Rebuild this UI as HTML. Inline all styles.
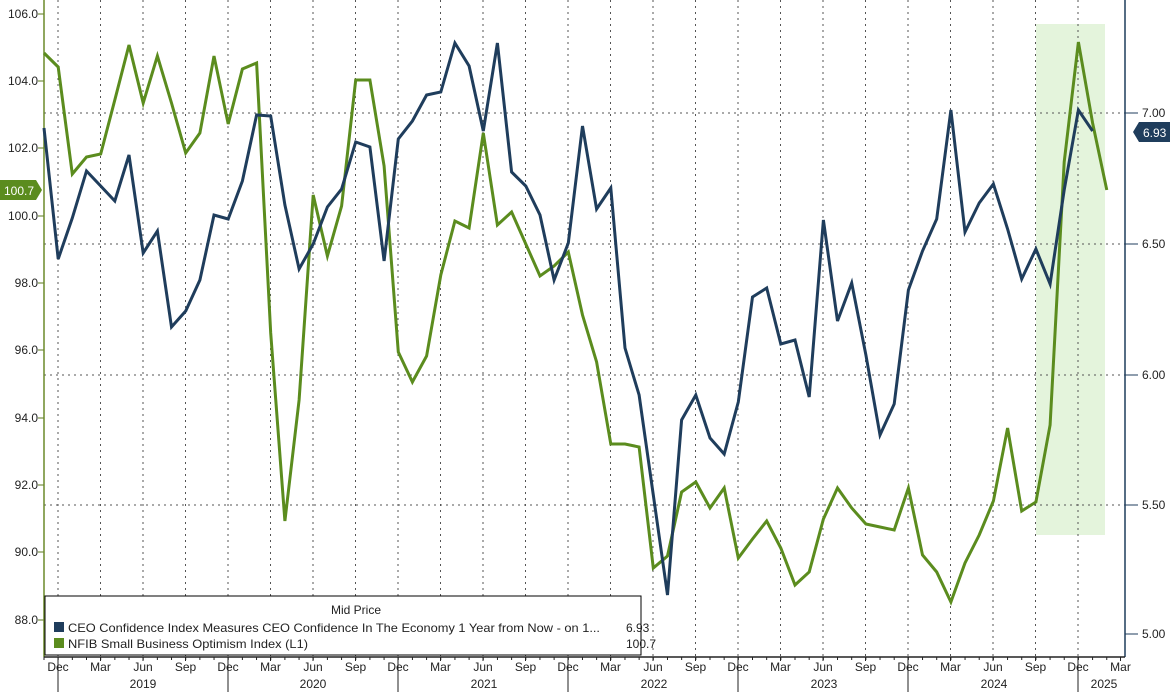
<!DOCTYPE html>
<html><head><meta charset="utf-8"><style>
body{margin:0;background:#fff;}
svg{display:block;font-family:"Liberation Sans",sans-serif;}
</style></head><body>
<svg id="c" width="1170" height="692" viewBox="0 0 1170 692" xmlns="http://www.w3.org/2000/svg">
<rect x="0" y="0" width="1170" height="692" fill="#fff"/>
<rect x="1036" y="24" width="69" height="511" fill="#e4f4dc"/>
<g id="grid" stroke="#555" stroke-width="1" stroke-dasharray="2,4"></g>
<g font-size="12" fill="#222" text-anchor="end">
<text x="38" y="18">106.0</text><text x="38" y="85">104.0</text><text x="38" y="152">102.0</text>
<text x="38" y="220">100.0</text><text x="38" y="287">98.0</text><text x="38" y="354">96.0</text>
<text x="38" y="422">94.0</text><text x="38" y="489">92.0</text><text x="38" y="556">90.0</text><text x="38" y="624">88.0</text>
</g>
<g font-size="12" fill="#222">
<text x="1142" y="117">7.00</text><text x="1142" y="248">6.50</text><text x="1142" y="379">6.00</text>
<text x="1142" y="509">5.50</text><text x="1142" y="638">5.00</text>
</g>
<g id="ticks" stroke="#5b7a1e" stroke-width="1"></g>
<line x1="44" y1="0" x2="44" y2="657" stroke="#6b8a2a" stroke-width="1.5"/>
<line x1="1125" y1="0" x2="1125" y2="657" stroke="#1f3d5c" stroke-width="1.5"/>
<line x1="44" y1="657" x2="1125" y2="657" stroke="#222" stroke-width="1.5"/>
<polyline id="green" fill="none" stroke="#5b8c1e" stroke-width="3" stroke-linejoin="miter"/>
<polyline id="blue" fill="none" stroke="#1f3d5c" stroke-width="3" stroke-linejoin="miter"/>
<polygon points="0,180 36,180 42,190 36,200 0,200" fill="#5b8c1e"/>
<text x="4" y="195" font-size="12" fill="#fff">100.7</text>
<polygon points="1139,122 1170,122 1170,142 1139,142 1133,132" fill="#1f3d5c"/>
<text x="1143" y="137" font-size="12" fill="#fff">6.93</text>
<rect x="45" y="596" width="596" height="59" fill="#fff" stroke="#000" stroke-width="1"/>
<text x="356" y="614" font-size="12" fill="#222" text-anchor="middle">Mid Price</text>
<rect x="54" y="622" width="10" height="10" fill="#1f3d5c"/>
<rect x="54" y="638" width="10" height="10" fill="#5b8c1e"/>
<text x="68" y="632" font-size="12" fill="#222" textLength="532" lengthAdjust="spacingAndGlyphs">CEO Confidence Index Measures CEO Confidence In The Economy 1 Year from Now -  on 1...</text>
<text x="68" y="648" font-size="12" fill="#222" textLength="240" lengthAdjust="spacingAndGlyphs">NFIB Small Business Optimism Index  (L1)</text>
<text x="626" y="632" font-size="12" fill="#222">6.93</text>
<text x="626" y="648" font-size="12" fill="#222">100.7</text>
<g id="xl" font-size="12" fill="#222" text-anchor="middle"></g>
<g font-size="12" fill="#222" text-anchor="middle">
<text x="143" y="688">2019</text><text x="313" y="688">2020</text><text x="484" y="688">2021</text>
<text x="654" y="688">2022</text><text x="824" y="688">2023</text><text x="994" y="688">2024</text><text x="1104" y="688">2025</text>
</g>
</svg>
<script>
var NS="http://www.w3.org/2000/svg";
function el(p,t,a){var e=document.createElementNS(NS,t);for(var k in a)e.setAttribute(k,a[k]);p.appendChild(e);return e;}
var g=[53,67,174,157,154,100,45,103,56,103,153,133,56,124,69,63,333,521,400,195,256,206,80,80,166,352,382,356,275,221,228,133,225,212,244,276,266,252,315,362,444,444,447,568,556,492,482,508,488,558,539,521,548,585,572,519,488,508,524,527,530,488,555,572,602,563,535,501,428,511,502,425,162,42,123,190];
var b=[128,259,218,171,186,201,155,253,231,327,311,280,215,219,181,115,116,205,269,244,207,189,142,147,261,139,121,95,92,43,66,131,43,172,186,215,280,243,126,209,188,348,395,495,595,420,395,438,454,402,297,288,344,340,397,220,321,283,355,435,404,290,251,219,110,232,203,184,229,279,249,284,190,110,131];
var dx=14.17;
function pts(a){return a.map(function(y,i){return (44+dx*i).toFixed(1)+","+y;}).join(" ");}
document.getElementById("green").setAttribute("points",pts(g));
document.getElementById("blue").setAttribute("points",pts(b));
var grid=document.getElementById("grid");
[113,244,375,505].forEach(function(y){el(grid,"line",{x1:44,y1:y,x2:1125,y2:y});});
var xl=document.getElementById("xl"),tk=document.getElementById("ticks");
var names=["Dec","Mar","Jun","Sep"];
for(var q=0;q<26;q++){var x=58+42.5*q;if(x>1126)break;
 if(x<1120)el(grid,"line",{x1:x,y1:0,x2:x,y2:657});
 var t=el(xl,"text",{x:x,y:671});t.textContent=names[q%4];
 el(tk,"line",{x1:x,y1:657,x2:x,y2:q%4==0?692:661,stroke:"#222"});
}
for(var m=0;m<76;m++){var x2=44+dx*m;el(tk,"line",{x1:x2,y1:657,x2:x2,y2:660,stroke:"#222"});}
[14,81,148,216,283,350,418,485,552,620].forEach(function(y){el(tk,"line",{x1:38,y1:y,x2:44,y2:y});});
[113,244,375,505,634].forEach(function(y){el(tk,"line",{x1:1125,y1:y,x2:1138,y2:y,stroke:"#1f3d5c"});});
</script>
</body></html>
